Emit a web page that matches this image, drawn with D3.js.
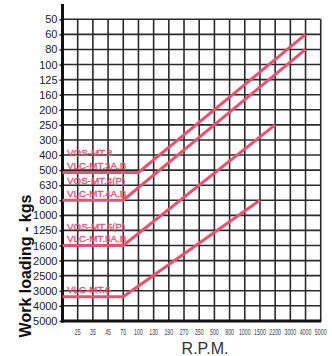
<!DOCTYPE html>
<html><head><meta charset="utf-8">
<script src="https://cdn.jsdelivr.net/npm/d3@7"></script>
<style>body{margin:0;background:#fff}svg{display:block}</style>
</head><body>
<svg id="c" width="332" height="356"></svg>
<script>
// ---- data ----
const rpmTicks = [25,35,45,70,100,130,190,270,350,500,800,1000,1500,2200,3000,4000,5000];
const kgTicks = [50,60,80,100,125,160,200,250,300,400,500,630,800,1000,1250,1600,2000,2500,3000,4000,5000];
const seriesNames = ["MT3","MT4","MT5","MT6"];
const seriesLabels = [["VOS-MT.3","VLC-MT.3A.B"],["VOS-MT.4(P)","VLC-MT.4A.B"],["VOS-MT.5(P)","VLC-MT.5A.B"],["VLC-MT.6"]];
// points as [rpm, kg]; rpm 0 = the axis
const seriesMT3 = [[0,520],[100,520],[4000,60]];
const seriesMT4 = [[0,800],[70,800],[4000,80]];
const seriesMT5 = [[0,1600],[70,1600],[2200,250]];
const seriesMT6 = [[0,3400],[70,3400],[1500,800]];
const seriesData = [seriesMT3, seriesMT4, seriesMT5, seriesMT6];

// ---- layout ----
const svg = d3.select("#c");
const x0 = 62.5, xStep = 15.19, y0 = 19.3, yStep = 15.08;
const x = d3.scaleLinear().domain([0, ...rpmTicks]).range(d3.range(rpmTicks.length + 1).map(i => x0 + i * xStep));
const y = d3.scaleLinear().domain(kgTicks).range(kgTicks.map((d, i) => y0 + i * yStep));
const xRight = x(5000), yBottom = y(5000);
const red = "#ef4f6f", gridC = "#2a2a2a";
const font = "Liberation Sans, Arial, sans-serif";

// grid
const g = svg.append("g");
g.selectAll("line.h").data(kgTicks.slice(0, -1)).join("line")
  .attr("x1", x0).attr("x2", xRight).attr("y1", d => y(d)).attr("y2", d => y(d))
  .attr("stroke", gridC).attr("stroke-width", 1.6);
g.selectAll("line.v").data(rpmTicks).join("line")
  .attr("x1", d => x(d)).attr("x2", d => x(d)).attr("y1", y0).attr("y2", yBottom)
  .attr("stroke", gridC).attr("stroke-width", 1.6);

// y axis
const yAxis = d3.axisLeft(y).tickValues(kgTicks).tickFormat(d3.format("d")).tickSize(3).tickPadding(2);
const ya = svg.append("g").attr("transform", `translate(${x0},0)`).call(yAxis);
ya.select(".domain").remove();
ya.selectAll(".tick line").attr("stroke", "#111").attr("stroke-width", 1.4);
ya.selectAll(".tick text").attr("font-family", font).attr("font-size", 11).attr("fill", "#222");

// x axis labels (condensed)
const xa = svg.append("g").attr("transform", `translate(0,${yBottom})`);
xa.selectAll("text").data(rpmTicks).join("text")
  .attr("transform", d => `translate(${x(d)},14) scale(0.62,1)`)
  .attr("text-anchor", "middle").attr("font-family", font)
  .attr("font-size", 8.5).attr("fill", "#444").text(d => d);

// thick axes
svg.append("line").attr("x1", x0).attr("x2", x0).attr("y1", 4).attr("y2", yBottom + 1.5)
  .attr("stroke", "#111").attr("stroke-width", 3);
svg.append("line").attr("x1", x0 - 1.5).attr("x2", xRight + 0.5).attr("y1", yBottom).attr("y2", yBottom)
  .attr("stroke", "#111").attr("stroke-width", 3);

// series lines
const line = d3.line().x(d => x(d[0])).y(d => y(d[1]));
svg.selectAll("path.s").data(seriesData).join("path")
  .attr("d", line).attr("fill", "none").attr("stroke", red).attr("stroke-width", 3).attr("stroke-linejoin", "miter");

// series labels
seriesData.forEach((s, i) => {
  const ly = y(s[0][1]);
  const labs = seriesLabels[i];
  labs.forEach((t, j) => {
    const off = labs.length === 2 ? (j === 0 ? -16 : -3.5) : -3.5;
    svg.append("text").attr("x", 67).attr("y", ly + off)
      .attr("font-family", font).attr("font-size", 9.8)
      .attr("fill", red).attr("stroke", red).attr("stroke-width", 0.35).text(t);
  });
});

// titles
svg.append("text").attr("transform", "translate(31,266) rotate(-90)")
  .attr("text-anchor", "middle").attr("font-family", font)
  .attr("font-size", 16).attr("font-weight", "bold").attr("fill", "#111").text("Work loading - kgs");
svg.append("text").attr("x", 205).attr("y", 354).attr("text-anchor", "middle")
  .attr("font-family", font).attr("font-size", 16).attr("fill", "#333").text("R.P.M.");
</script>
</body></html>
